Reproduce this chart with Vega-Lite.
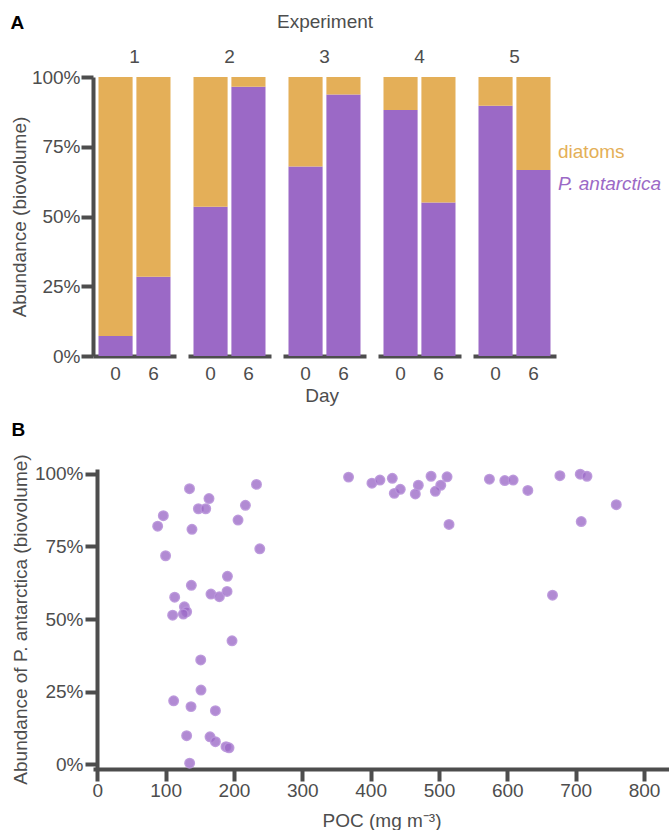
{
  "$schema": "https://vega.github.io/schema/vega-lite/v6.json",
  "padding": {"left": 10, "top": 13, "right": 0, "bottom": 0},
  "config": {
    "font": "Liberation Sans",
    "view": {"stroke": null},
    "axis": {"domainColor": "#4d4d4d", "domainWidth": 4, "tickColor": "#4d4d4d", "tickWidth": 4, "tickSize": 12, "labelColor": "#4d4d4d", "labelFontSize": 19, "titleColor": "#4d4d4d", "titleFontSize": 19, "titleFontWeight": "normal", "grid": false, "labelFont": "Liberation Sans", "titleFont": "Liberation Sans"},
    "header": {"labelFontSize": 19, "titleFontSize": 19, "labelColor": "#4d4d4d", "titleColor": "#4d4d4d", "titleFontWeight": "normal", "labelFont": "Liberation Sans", "titleFont": "Liberation Sans"},
    "title": {"fontSize": 19, "fontWeight": "bold", "color": "#000000", "anchor": "start", "frame": "bounds", "font": "Liberation Sans"}
  },
  "title": {"text": "A", "offset": -20},
  "resolve": {"legend": {"color": "independent"}},
  "columns": 1,
  "align": "none",
  "spacing": 14,
  "concat": [
    {
      "title": {"text": "Day", "orient": "bottom", "anchor": "middle", "frame": "bounds", "dx": -14, "fontWeight": "normal", "color": "#4d4d4d", "fontSize": 19, "offset": 4},
      "data": {"values": [
        {"exp": 1, "day": "0", "group": "P. antarctica", "value": 7.2},
        {"exp": 1, "day": "0", "group": "diatoms", "value": 92.8},
        {"exp": 1, "day": "6", "group": "P. antarctica", "value": 28.4},
        {"exp": 1, "day": "6", "group": "diatoms", "value": 71.6},
        {"exp": 2, "day": "0", "group": "P. antarctica", "value": 53.5},
        {"exp": 2, "day": "0", "group": "diatoms", "value": 46.5},
        {"exp": 2, "day": "6", "group": "P. antarctica", "value": 96.5},
        {"exp": 2, "day": "6", "group": "diatoms", "value": 3.5},
        {"exp": 3, "day": "0", "group": "P. antarctica", "value": 67.9},
        {"exp": 3, "day": "0", "group": "diatoms", "value": 32.1},
        {"exp": 3, "day": "6", "group": "P. antarctica", "value": 93.7},
        {"exp": 3, "day": "6", "group": "diatoms", "value": 6.3},
        {"exp": 4, "day": "0", "group": "P. antarctica", "value": 88.2},
        {"exp": 4, "day": "0", "group": "diatoms", "value": 11.8},
        {"exp": 4, "day": "6", "group": "P. antarctica", "value": 55.0},
        {"exp": 4, "day": "6", "group": "diatoms", "value": 45.0},
        {"exp": 5, "day": "0", "group": "P. antarctica", "value": 89.7},
        {"exp": 5, "day": "0", "group": "diatoms", "value": 10.3},
        {"exp": 5, "day": "6", "group": "P. antarctica", "value": 66.7},
        {"exp": 5, "day": "6", "group": "diatoms", "value": 33.3}
      ]},
      "facet": {"column": {"field": "exp", "type": "ordinal", "header": {"title": "Experiment", "labelPadding": 10, "titlePadding": 6}}},
      "spacing": 12,
      "spec": {
        "width": 83,
        "height": 279,
        "mark": {"type": "bar"},
        "encoding": {
          "x": {"field": "day", "type": "nominal", "scale": {"paddingInner": 0.1, "paddingOuter": 0.145}, "axis": {"title": null, "ticks": false, "tickSize": 0, "labelAngle": 0, "labelPadding": 8}},
          "y": {"field": "value", "type": "quantitative", "stack": "normalize", "scale": {"domain": [0, 1]}, "axis": {"title": "Abundance (biovolume)", "values": [0, 0.25, 0.5, 0.75, 1], "format": ".0%", "labelPadding": 1, "titlePadding": 2}},
          "color": {"field": "group", "type": "nominal", "scale": {"domain": ["diatoms", "P. antarctica"], "range": ["#E4AF58", "#9B69C6"]},
            "legend": {"title": null, "orient": "none", "legendX": 446, "legendY": 65, "symbolSize": 0, "symbolStrokeWidth": 0, "symbolOpacity": 0, "labelOffset": 0, "labelFontSize": 19, "labelFont": "Liberation Sans", "rowPadding": 12, "labelLimit": 300,
              "encode": {"labels": {"update": {"fill": {"signal": "datum.value === 'diatoms' ? '#E4AF58' : '#9B69C6'"}, "fontStyle": {"signal": "datum.value === 'diatoms' ? 'normal' : 'italic'"}}}}}},
          "order": {"field": "group", "sort": "ascending"}
        }
      }
    },
    {
      "title": {"text": "B", "offset": 14},
      "width": 577,
      "height": 300,
      "data": {"values": [
        {"poc": 135, "abund": 0.949}, {"poc": 233, "abund": 0.964}, {"poc": 163.5, "abund": 0.915}, {"poc": 148, "abund": 0.880},
        {"poc": 158.7, "abund": 0.880}, {"poc": 216.8, "abund": 0.892}, {"poc": 96.7, "abund": 0.856}, {"poc": 88.4, "abund": 0.820},
        {"poc": 138.6, "abund": 0.809}, {"poc": 206, "abund": 0.841}, {"poc": 237.8, "abund": 0.742}, {"poc": 100, "abund": 0.718},
        {"poc": 190.5, "abund": 0.647}, {"poc": 137.7, "abund": 0.616}, {"poc": 113.3, "abund": 0.575}, {"poc": 166.4, "abund": 0.586},
        {"poc": 178.7, "abund": 0.577}, {"poc": 189.9, "abund": 0.595}, {"poc": 127.5, "abund": 0.542}, {"poc": 130.8, "abund": 0.525},
        {"poc": 126, "abund": 0.517}, {"poc": 110.3, "abund": 0.513}, {"poc": 197.2, "abund": 0.425},
        {"poc": 151.4, "abund": 0.359}, {"poc": 151.8, "abund": 0.255}, {"poc": 111.8, "abund": 0.218}, {"poc": 137.2, "abund": 0.198},
        {"poc": 172.9, "abund": 0.184}, {"poc": 130.8, "abund": 0.098}, {"poc": 165, "abund": 0.094}, {"poc": 172.9, "abund": 0.077},
        {"poc": 188.4, "abund": 0.060}, {"poc": 192.8, "abund": 0.056}, {"poc": 135.2, "abund": 0.003},
        {"poc": 367.7, "abund": 0.989}, {"poc": 401.9, "abund": 0.968}, {"poc": 413.6, "abund": 0.979}, {"poc": 431.7, "abund": 0.985},
        {"poc": 434.6, "abund": 0.933}, {"poc": 443.4, "abund": 0.947}, {"poc": 469.8, "abund": 0.961}, {"poc": 465.4, "abund": 0.931},
        {"poc": 488.4, "abund": 0.992}, {"poc": 502.6, "abund": 0.961}, {"poc": 494.7, "abund": 0.940}, {"poc": 511.8, "abund": 0.990},
        {"poc": 514.7, "abund": 0.826}, {"poc": 573.8, "abund": 0.982}, {"poc": 596.3, "abund": 0.977}, {"poc": 608.5, "abund": 0.979},
        {"poc": 630, "abund": 0.943}, {"poc": 676.9, "abund": 0.994}, {"poc": 706.7, "abund": 0.999}, {"poc": 716.5, "abund": 0.992},
        {"poc": 708.1, "abund": 0.836}, {"poc": 759.4, "abund": 0.894}, {"poc": 666.1, "abund": 0.582}
      ]},
      "mark": {"type": "circle", "size": 90, "fill": "#9B69C6", "fillOpacity": 0.78, "stroke": "#b995da", "strokeWidth": 1.5, "strokeOpacity": 0.9},
      "encoding": {
        "x": {"field": "poc", "type": "quantitative", "scale": {"domain": [-6.2, 838], "nice": false, "zero": false}, "axis": {"title": "POC (mg m⁻³)", "values": [0, 100, 200, 300, 400, 500, 600, 700, 800], "labelPadding": 0, "titlePadding": 11, "labelFlush": false}},
        "y": {"field": "abund", "type": "quantitative", "scale": {"domain": [-0.017, 1.017], "nice": false}, "axis": {"title": "Abundance of P. antarctica (biovolume)", "offset": -4, "values": [0, 0.25, 0.5, 0.75, 1], "format": ".0%", "labelPadding": 2, "titlePadding": 4}}
      }
    }
  ]
}
